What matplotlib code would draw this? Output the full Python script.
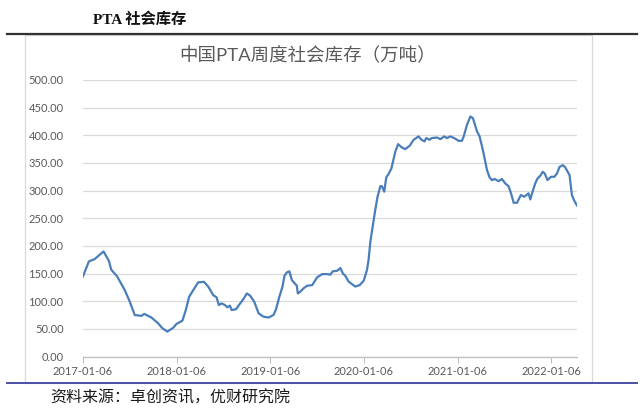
import numpy as np
import pandas as pd
import matplotlib
matplotlib.use("Agg")
import matplotlib.pyplot as plt
import matplotlib.dates as mdates
from matplotlib.lines import Line2D
from matplotlib.patches import Rectangle

plt.rcParams["font.family"] = ["Lato", "Noto Sans CJK SC", "DejaVu Sans"]

# readings of the weekly series (10k tonnes)
dates = [
    "2017-01-06", "2017-01-29", "2017-02-20", "2017-03-27", "2017-04-17", "2017-04-26",
    "2017-05-19", "2017-06-18", "2017-07-05", "2017-07-27", "2017-08-22", "2017-09-02",
    "2017-09-30", "2017-10-26", "2017-11-12", "2017-12-01", "2017-12-24", "2018-01-06",
    "2018-01-29", "2018-02-11", "2018-02-24", "2018-03-12", "2018-03-31", "2018-04-23",
    "2018-05-10", "2018-05-29", "2018-06-11", "2018-06-20", "2018-07-01", "2018-07-14",
    "2018-07-23", "2018-08-02", "2018-08-09", "2018-08-26", "2018-09-11", "2018-09-24",
    "2018-10-07", "2018-10-20", "2018-11-05", "2018-11-22", "2018-12-11", "2018-12-31",
    "2019-01-19", "2019-01-29", "2019-02-11", "2019-02-23", "2019-03-03", "2019-03-12",
    "2019-03-22", "2019-04-01", "2019-04-14", "2019-04-20", "2019-04-24", "2019-05-03",
    "2019-05-17", "2019-05-30", "2019-06-19", "2019-07-08", "2019-07-28", "2019-08-16",
    "2019-08-29", "2019-09-07", "2019-09-24", "2019-10-07", "2019-10-17", "2019-10-26",
    "2019-11-08", "2019-12-04", "2019-12-21", "2020-01-06", "2020-01-19", "2020-01-25",
    "2020-02-01", "2020-02-14", "2020-02-20", "2020-02-29", "2020-03-11", "2020-03-17",
    "2020-03-26", "2020-04-03", "2020-04-12", "2020-04-23", "2020-05-08", "2020-05-19",
    "2020-06-03", "2020-06-16", "2020-07-03", "2020-07-19", "2020-08-07", "2020-08-18",
    "2020-08-30", "2020-09-06", "2020-09-19", "2020-09-28", "2020-10-18", "2020-10-31",
    "2020-11-15", "2020-11-26", "2020-12-09", "2020-12-24", "2021-01-10", "2021-01-23",
    "2021-01-30", "2021-02-12", "2021-02-25", "2021-03-07", "2021-03-23", "2021-04-02",
    "2021-04-15", "2021-05-01", "2021-05-11", "2021-05-20", "2021-05-31", "2021-06-15",
    "2021-06-28", "2021-07-11", "2021-07-24", "2021-08-02", "2021-08-13", "2021-08-26",
    "2021-09-10", "2021-09-23", "2021-10-04", "2021-10-10", "2021-10-17", "2021-10-27",
    "2021-11-05", "2021-11-14", "2021-11-25", "2021-12-04", "2021-12-12", "2021-12-23",
    "2022-01-06", "2022-01-19", "2022-01-29", "2022-02-08", "2022-02-21", "2022-03-02",
    "2022-03-19", "2022-03-28", "2022-04-06", "2022-04-17",
]
stock = [
    145, 172, 176, 190, 173, 157,
    145, 120, 102, 75, 73.5, 77,
    70.5, 60, 51, 45, 52, 59,
    65, 84, 108, 120, 134, 135,
    126, 111, 107, 93, 96, 93,
    89, 92, 84, 85.5, 96, 104,
    114, 110, 99, 78, 72, 70.5,
    75, 85.5, 108, 126, 146, 152,
    154, 138, 131, 128, 114, 117,
    123.5, 128, 129, 143, 149, 149,
    148, 154, 155, 160, 150, 146,
    135.5, 126.5, 129, 137, 157, 175,
    208, 247, 265, 289, 308, 308,
    298, 324, 330, 340, 370, 384,
    378, 375, 381, 392, 398, 392,
    389, 395, 392, 395, 396, 393,
    398, 395, 398, 395, 390, 390,
    398, 419, 434, 431, 407, 398,
    373, 337, 324, 319, 321, 317,
    321, 313, 308, 296, 278, 278,
    292, 289, 293, 295, 284, 300,
    313, 322, 327, 334, 331, 319,
    325, 325, 331, 343, 346, 342,
    328, 292, 282, 273,
]
tick_dates = ["2017-01-06", "2018-01-06", "2019-01-06", "2020-01-06", "2021-01-06", "2022-01-06"]
y_ticks = [0, 50, 100, 150, 200, 250, 300, 350, 400, 450, 500]

x = pd.to_datetime(dates)
ticks = pd.to_datetime(tick_dates)

W, H = 642, 413
fig = plt.figure(figsize=(W / 100, H / 100), dpi=100)

# report-style header, frame and rules
fig.text(93 / W, 1 - 20 / H, "PTA 社会库存", fontsize=11, fontweight="bold",
         family=["Liberation Serif", "Noto Sans CJK SC"], ha="left", va="center", color="#111111")
fig.add_artist(Line2D([7 / W, 637 / W], [1 - 33.7 / H] * 2, color="#333333", lw=1.6))
fig.add_artist(Rectangle((24.5 / W, 1 - 383 / H), (591.5 - 24.5) / W, (383 - 35) / H,
                         fill=False, ec="#d9d9d9", lw=0.9))
fig.add_artist(Line2D([7 / W, 637 / W], [1 - 383 / H] * 2, color="#4b50a8", lw=1.4))
fig.text(50 / W, 1 - 398 / H, "资料来源：卓创资讯，优财研究院", fontsize=11.5,
         family=["Noto Sans CJK SC"], ha="left", va="center", color="#1a1a1a")

# chart title is centred on the chart frame, not on the plot area
fig.text(308 / W, 1 - 55 / H, "中国PTA周度社会库存（万吨）", fontsize=13.3,
         color="#595959", ha="center", va="center")

ax = fig.add_axes([83 / W, 1 - 356.5 / H, (577 - 83) / W, (356.5 - 80) / H])
ax.plot(x, stock, color="#4a7ebb", lw=1.6, solid_joinstyle="round")

ax.set_xlim(x[0], x[-1])
ax.set_ylim(0, 500)
ax.set_yticks(y_ticks)
ax.set_yticklabels([f"{v:.2f}" for v in y_ticks])
ax.set_xticks(ticks)
ax.xaxis.set_major_formatter(mdates.DateFormatter("%Y-%m-%d"))
ax.grid(axis="y", color="#d9d9d9", lw=0.9)
ax.set_axisbelow(True)
for side in ["top", "right", "left"]:
    ax.spines[side].set_visible(False)
ax.spines["bottom"].set_color("#bfbfbf")
ax.spines["bottom"].set_linewidth(0.9)
ax.tick_params(axis="y", length=0, pad=14, labelsize=8, labelcolor="#595959")
ax.tick_params(axis="x", length=4, width=0.8, color="#bfbfbf", pad=3,
               labelsize=8, labelcolor="#595959")

fig.savefig("out.png", dpi=100)
